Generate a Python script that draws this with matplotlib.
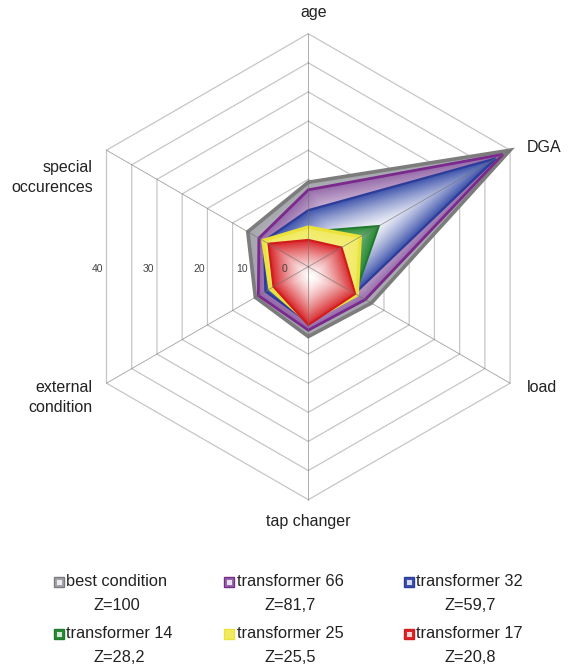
import numpy as np
import matplotlib
matplotlib.use('Agg')
import matplotlib.pyplot as plt
import matplotlib.patches as patches
from matplotlib.colors import to_rgb

plt.rcParams['font.family'] = ['Liberation Sans', 'DejaVu Sans']

# radar axes, clockwise from the top
categories = ['age', 'DGA', 'load', 'tap changer', 'external\ncondition', 'special\noccurences']
ring_values = [5, 10, 15, 20, 25, 30, 35, 40]
tick_labels = ['40', '30', '20', '10', '0']

series_names = ['best condition', 'transformer 66', 'transformer 32',
                'transformer 14', 'transformer 25', 'transformer 17']
z_scores = [100, 81.7, 59.7, 28.2, 25.5, 20.8]

best_condition = [14.5, 40.0, 12.5, 12.0, 10.5, 12.0]
transformer_66 = [13.2, 38.6, 11.3, 10.9, 9.9, 9.8]
transformer_32 = [9.7, 37.2, 9.2, 9.5, 8.5, 8.8]
transformer_14 = [6.0, 14.0, 9.3, 8.0, 6.5, 8.0]
transformer_25 = [6.8, 10.3, 9.7, 9.5, 7.6, 9.0]
transformer_17 = [4.6, 6.6, 9.3, 10.0, 6.9, 7.9]
all_series = [best_condition, transformer_66, transformer_32,
              transformer_14, transformer_25, transformer_17]

# styling
fill_cols = ['#a4a4ac', '#9468a8', '#3a50aa', '#2a8a36', '#f1ea60', '#d8262a']
edge_cols = ['#7c7c7c', '#7a2a8c', '#2c3c98', '#1f7a2c', '#ece23a', '#d01c1c']
edge_lw = [2.6, 2.0, 1.6, 1.4, 2.4, 1.5]
grad_pow = [0.8, 1.6, 1.5, 1.0, 0.5, 1.4]

# layout (pixels of the 581x669 picture)
W, H = 581, 669
cx, cy = 308.3, 266.7
k = 233.0 / ring_values[-1]          # px per unit
tick_pos = [36.2, 27.5, 18.7, 11.3, 4.1]   # label positions along the left, in units


def xy(vals):
    ang = np.deg2rad(np.arange(len(vals)) * 360.0 / len(vals))
    v = np.asarray(vals, float)
    return np.column_stack([v * np.sin(ang), v * np.cos(ang)])


def centroid(P):
    x, y = P[:, 0], P[:, 1]
    x1, y1 = np.roll(x, -1), np.roll(y, -1)
    cr = x * y1 - x1 * y
    A = cr.sum() / 2
    return np.array([((x + x1) * cr).sum() / (6 * A), ((y + y1) * cr).sum() / (6 * A)])


def gauge(gx, gy, P, c):
    # fraction of the way from c to the polygon edge
    dx, dy = gx - c[0], gy - c[1]
    best = np.full(gx.shape, np.inf)
    n = len(P)
    for i in range(n):
        A, B = P[i], P[(i + 1) % n]
        ex, ey = B - A
        wx, wy = A - c
        den = dx * ey - dy * ex
        with np.errstate(divide='ignore', invalid='ignore'):
            s = (wx * ey - wy * ex) / den
            u = (wx * dy - wy * dx) / den
        ok = (s > 0) & (u >= -1e-9) & (u <= 1 + 1e-9)
        best = np.where(ok, np.minimum(best, s), best)
    return 1.0 / best


fig = plt.figure(figsize=(W / 100, H / 100), dpi=100)
ax = fig.add_axes([0, 0, 1, 1])
ax.set_xlim(-cx / k, (W - cx) / k)
ax.set_ylim(-(H - cy) / k, cy / k)
ax.axis('off')

# hexagonal rings
for r in ring_values:
    P = xy([r] * len(categories))
    P = np.vstack([P, P[:1]])
    ax.plot(P[:, 0], P[:, 1], color='#c6c6c6', lw=0.9, zorder=1)

# filled series with path gradient
for i, vals in enumerate(all_series):
    P = xy(vals)
    c = centroid(P)
    x0, y0 = P.min(axis=0) - 1
    x1, y1 = P.max(axis=0) + 1
    nx = 400
    ny = max(int(nx * (y1 - y0) / (x1 - x0)), 50)
    gx, gy = np.meshgrid(np.linspace(x0, x1, nx), np.linspace(y0, y1, ny))
    g = np.clip(gauge(gx, gy, P, c), 0, 1) ** grad_pow[i]
    col = np.array(to_rgb(fill_cols[i]))
    img = 1 - g[..., None] * (1 - col)
    poly = patches.Polygon(P, closed=True, facecolor='none', edgecolor=edge_cols[i],
                           lw=edge_lw[i], joinstyle='miter', zorder=3 + i * 2 + 1)
    ax.add_patch(poly)
    im = ax.imshow(img, extent=(x0, x1, y0, y1), origin='lower', interpolation='bilinear',
                   zorder=3 + i * 2, aspect='auto')
    im.set_clip_path(poly)

# spokes on top
outer = xy([ring_values[-1]] * len(categories))
for p in outer:
    ax.plot([0, p[0]], [0, p[1]], color='#6e6e6e', lw=0.6, alpha=0.65, zorder=20)

# value labels along the left
for lab, pos in zip(tick_labels, tick_pos):
    ax.text(-pos, -0.35, lab, fontsize=7.5, color='#444444', ha='center', va='center', zorder=21)

# category labels
fs = 11.5
ax.text(1.0, 43.6, categories[0], fontsize=fs, ha='center', va='center', color='#222222')
ax.text(37.5, 20.5, categories[1], fontsize=fs, ha='left', va='center', color='#222222')
ax.text(37.5, -20.8, categories[2], fontsize=fs, ha='left', va='center', color='#222222')
ax.text(0.0, -43.8, categories[3], fontsize=fs, ha='center', va='center', color='#222222')
ax.text(-37.0, -22.4, categories[4], fontsize=fs, ha='right', va='center',
        multialignment='right', color='#222222', linespacing=1.4)
ax.text(-37.0, 15.3, categories[5], fontsize=fs, ha='right', va='center',
        multialignment='right', color='#222222', linespacing=1.4)

# legend
col_x = [54, 224, 404]
row_y = [582, 634]
for i, name in enumerate(series_names):
    sx = col_x[i % 3]
    ty = row_y[i // 3]
    fig.add_artist(patches.Rectangle((sx / W, 1 - (ty + 5) / H), 10 / W, 10 / H,
                                     transform=fig.transFigure, facecolor=fill_cols[i],
                                     edgecolor=edge_cols[i], lw=1.0))
    if i != 4:
        fig.add_artist(patches.Rectangle(((sx + 2.5) / W, 1 - (ty + 2.5) / H), 5 / W, 5 / H,
                                         transform=fig.transFigure, facecolor='white',
                                         edgecolor='none', alpha=0.8))
    t = fig.text((sx + 12.5) / W, 1 - ty / H, name, fontsize=11.8, ha='left', va='center',
                 color='#222222')
    zlab = 'Z=' + ('%g' % z_scores[i]).replace('.', ',')
    fig.canvas.draw()
    bb = t.get_window_extent()
    fig.text((bb.x0 + bb.x1) / 2 / W, 1 - (ty + 23.5) / H, zlab, fontsize=11.8,
             ha='center', va='center', color='#222222')

fig.savefig('out.png', dpi=100)
